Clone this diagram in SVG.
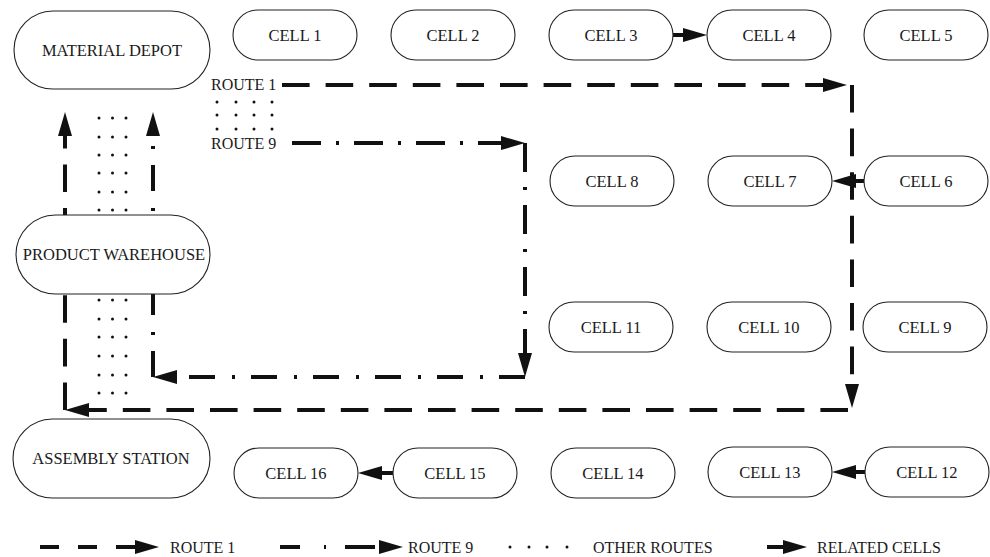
<svg xmlns="http://www.w3.org/2000/svg" width="990" height="557" viewBox="0 0 990 557">
<style>
.n{fill:#fff;stroke:#222;stroke-width:1.1}
text{font-family:"Liberation Serif","Times New Roman",serif;fill:#1a1a1a}
.t{font-size:16.5px;text-anchor:middle}
.l{font-size:16px}
.r1{fill:none;stroke:#111;stroke-width:4;stroke-dasharray:27.6 16}
.r9{fill:none;stroke:#111;stroke-width:4;stroke-dasharray:29 15 3 15}
.r9b{fill:none;stroke:#111;stroke-width:4;stroke-dasharray:26 16 3 17}
.rel{fill:none;stroke:#111;stroke-width:4}
.d{fill:#111}
</style>
<defs>
<marker id="ah" markerUnits="userSpaceOnUse" markerWidth="26" markerHeight="16" refX="17" refY="7" orient="auto" overflow="visible">
<path d="M0,0 L24,7 L0,14 z" fill="#111"/>
</marker>
<circle id="dot" r="1.5" class="d"/>
</defs>
<g id="connectors">
<!-- Route 1 -->
<path class="r1" d="M282,85 H840" marker-end="url(#ah)"/>
<path class="r1" d="M852,85 V401" marker-end="url(#ah)"/>
<path class="r1" d="M848,410 H72" marker-end="url(#ah)"/>
<path class="r1" d="M65,410 V119" marker-end="url(#ah)"/>
<!-- Route 9 -->
<path class="r9" d="M292,143 H518" marker-end="url(#ah)"/>
<path class="r9" d="M525,143 V370" marker-end="url(#ah)"/>
<path class="r9b" d="M525,377 H160" marker-end="url(#ah)"/>
<path class="r9b" d="M153,377 V119" marker-end="url(#ah)"/>
<!-- Related cells -->
<path class="rel" d="M673,35 H700" marker-end="url(#ah)"/>
<path class="rel" d="M864,181 H839" marker-end="url(#ah)"/>
<path class="rel" d="M393,473 H365" marker-end="url(#ah)"/>
<path class="rel" d="M865,472 H839" marker-end="url(#ah)"/>
<!-- Other routes dots (vertical) -->
<g id="other-routes">
<use href="#dot" x="99" y="118"/><use href="#dot" x="112.5" y="118"/><use href="#dot" x="126" y="118"/>
<use href="#dot" x="99" y="137"/><use href="#dot" x="112.5" y="137"/><use href="#dot" x="126" y="137"/>
<use href="#dot" x="99" y="155"/><use href="#dot" x="112.5" y="155"/><use href="#dot" x="126" y="155"/>
<use href="#dot" x="99" y="173"/><use href="#dot" x="112.5" y="173"/><use href="#dot" x="126" y="173"/>
<use href="#dot" x="99" y="192"/><use href="#dot" x="112.5" y="192"/><use href="#dot" x="126" y="192"/>
<use href="#dot" x="99" y="210"/><use href="#dot" x="112.5" y="210"/><use href="#dot" x="126" y="210"/>
<use href="#dot" x="99" y="300"/><use href="#dot" x="112.5" y="300"/><use href="#dot" x="126" y="300"/>
<use href="#dot" x="99" y="319"/><use href="#dot" x="112.5" y="319"/><use href="#dot" x="126" y="319"/>
<use href="#dot" x="99" y="337"/><use href="#dot" x="112.5" y="337"/><use href="#dot" x="126" y="337"/>
<use href="#dot" x="99" y="356"/><use href="#dot" x="112.5" y="356"/><use href="#dot" x="126" y="356"/>
<use href="#dot" x="99" y="375"/><use href="#dot" x="112.5" y="375"/><use href="#dot" x="126" y="375"/>
<use href="#dot" x="99" y="393"/><use href="#dot" x="112.5" y="393"/><use href="#dot" x="126" y="393"/>
<!-- horizontal grid near route labels -->
<use href="#dot" x="217" y="102"/><use href="#dot" x="236" y="102"/><use href="#dot" x="254" y="102"/><use href="#dot" x="272" y="102"/>
<use href="#dot" x="217" y="115"/><use href="#dot" x="236" y="115"/><use href="#dot" x="254" y="115"/><use href="#dot" x="272" y="115"/>
<use href="#dot" x="217" y="129"/><use href="#dot" x="236" y="129"/><use href="#dot" x="254" y="129"/><use href="#dot" x="272" y="129"/>
</g>
</g>
<text class="l" x="211" y="90">ROUTE 1</text>
<text class="l" x="211" y="149">ROUTE 9</text>
<g id="material-depot"><rect class="n" x="14" y="11" width="196" height="78" rx="39"/><text class="t" x="112" y="56">MATERIAL DEPOT</text></g>
<g id="product-warehouse"><rect class="n" x="16" y="215" width="194" height="79" rx="39.5"/><text class="t" x="114" y="260">PRODUCT WAREHOUSE</text></g>
<g id="assembly-station"><rect class="n" x="13" y="419" width="197" height="79" rx="39.5"/><text class="t" x="111" y="464">ASSEMBLY STATION</text></g>
<g id="cell1"><rect class="n" x="233" y="10" width="124" height="50" rx="25"/><text class="t" x="295" y="41">CELL 1</text></g>
<g id="cell2"><rect class="n" x="391" y="10" width="124" height="50" rx="25"/><text class="t" x="453" y="41">CELL 2</text></g>
<g id="cell3"><rect class="n" x="549" y="10" width="124" height="50" rx="25"/><text class="t" x="611" y="41">CELL 3</text></g>
<g id="cell4"><rect class="n" x="707" y="10" width="124" height="50" rx="25"/><text class="t" x="769" y="41">CELL 4</text></g>
<g id="cell5"><rect class="n" x="864" y="10" width="124" height="50" rx="25"/><text class="t" x="926" y="41">CELL 5</text></g>
<g id="cell8"><rect class="n" x="550" y="156" width="124" height="50" rx="25"/><text class="t" x="612" y="187">CELL 8</text></g>
<g id="cell7"><rect class="n" x="708" y="156" width="124" height="50" rx="25"/><text class="t" x="770" y="187">CELL 7</text></g>
<g id="cell6"><rect class="n" x="864" y="156" width="124" height="50" rx="25"/><text class="t" x="926" y="187">CELL 6</text></g>
<g id="cell11"><rect class="n" x="549" y="302" width="124" height="50" rx="25"/><text class="t" x="611" y="333">CELL 11</text></g>
<g id="cell10"><rect class="n" x="707" y="302" width="124" height="50" rx="25"/><text class="t" x="769" y="333">CELL 10</text></g>
<g id="cell9"><rect class="n" x="863" y="302" width="124" height="50" rx="25"/><text class="t" x="925" y="333">CELL 9</text></g>
<g id="cell16"><rect class="n" x="234" y="448" width="124" height="50" rx="25"/><text class="t" x="296" y="479">CELL 16</text></g>
<g id="cell15"><rect class="n" x="393" y="448" width="124" height="50" rx="25"/><text class="t" x="455" y="479">CELL 15</text></g>
<g id="cell14"><rect class="n" x="551" y="448" width="124" height="50" rx="25"/><text class="t" x="613" y="479">CELL 14</text></g>
<g id="cell13"><rect class="n" x="708" y="447" width="124" height="50" rx="25"/><text class="t" x="770" y="478">CELL 13</text></g>
<g id="cell12"><rect class="n" x="865" y="447" width="124" height="50" rx="25"/><text class="t" x="927" y="478">CELL 12</text></g>
<g id="legend">
<path d="M40,547 H152" fill="none" stroke="#111" stroke-width="4" stroke-dasharray="19 19" marker-end="url(#ah)"/>
<text class="l" x="170" y="553">ROUTE 1</text>
<path d="M280,547 H396" fill="none" stroke="#111" stroke-width="4" stroke-dasharray="20 24 2 19 30 20" marker-end="url(#ah)"/>
<text class="l" x="408" y="553">ROUTE 9</text>
<use href="#dot" x="510" y="547"/><use href="#dot" x="529" y="547"/><use href="#dot" x="547" y="547"/><use href="#dot" x="567" y="547"/>
<text class="l" x="593" y="553">OTHER ROUTES</text>
<path class="rel" d="M767,547 H800" marker-end="url(#ah)"/>
<text class="l" x="817" y="553">RELATED CELLS</text>
</g>
</svg>
